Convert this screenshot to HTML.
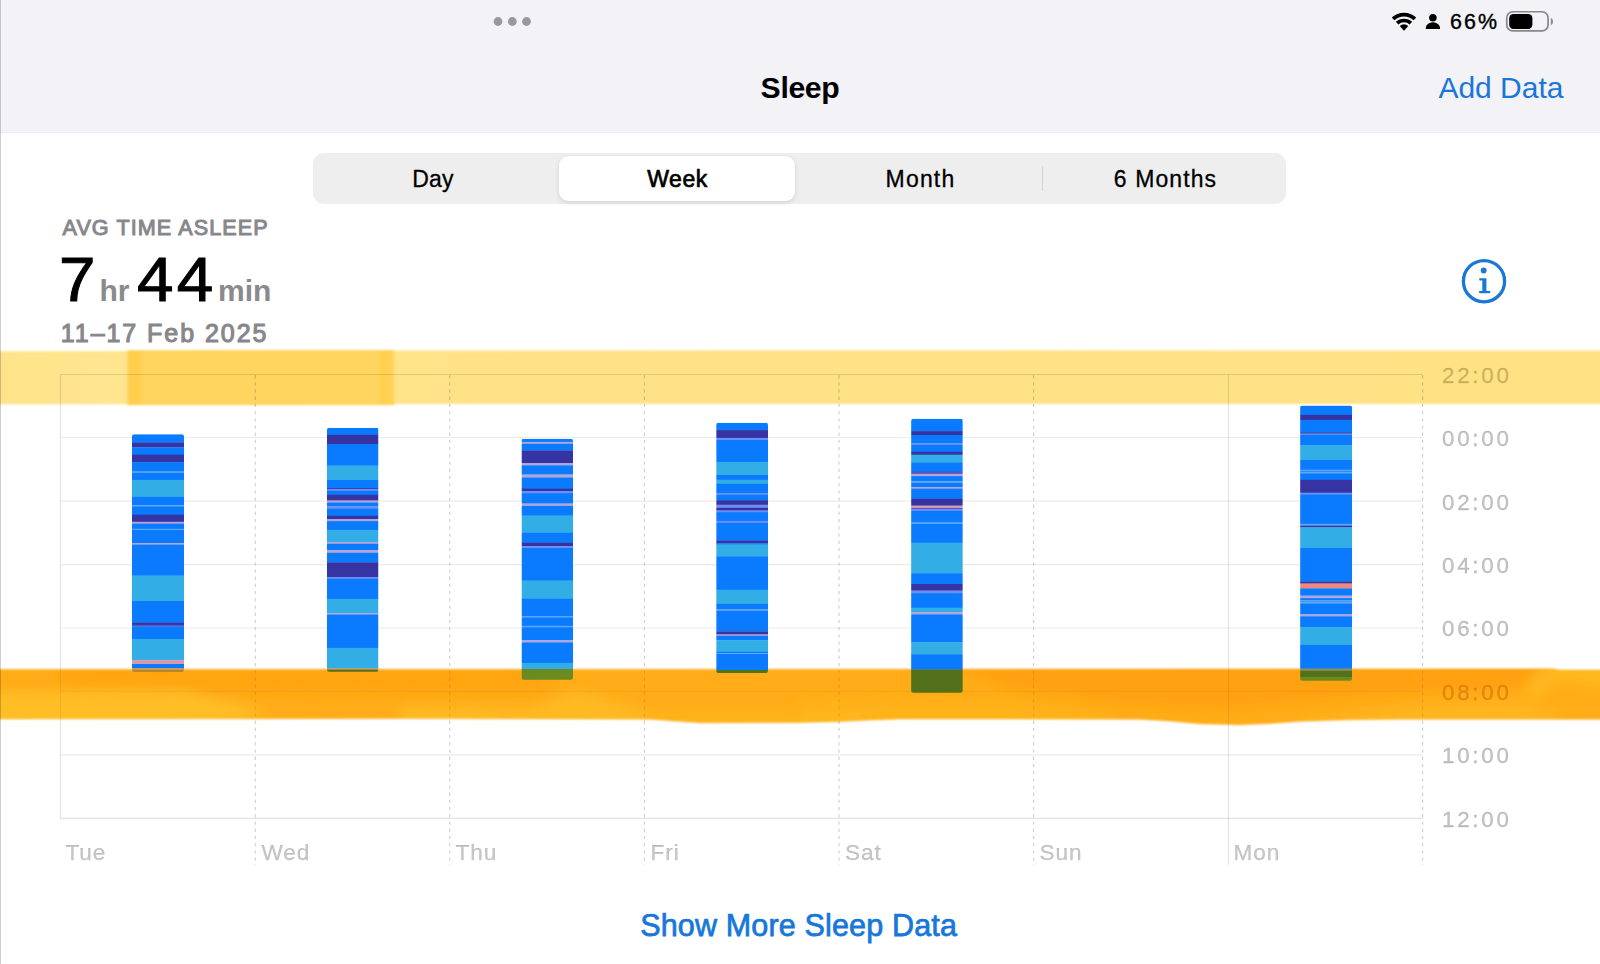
<!DOCTYPE html>
<html lang="en">
<head>
<meta charset="utf-8">
<title>Sleep</title>
<style>
html,body{margin:0;padding:0;}
body{width:1600px;height:964px;overflow:hidden;background:#fff;position:relative;font-family:"Liberation Sans",sans-serif;color:#000;}
.abs{position:absolute;white-space:nowrap;line-height:1;}
#hdr{position:absolute;left:0;top:0;width:1600px;height:132px;background:#F2F2F7;border-bottom:1px solid #EFEFF2;}
#edge{position:absolute;left:0;top:0;width:1.3px;height:964px;background:#CFCFD2;mix-blend-mode:multiply;}
#title{left:700px;width:200px;text-align:center;top:72.6px;font-size:30.2px;font-weight:bold;letter-spacing:-0.35px;}
#add{left:1438.4px;top:73px;font-size:30px;color:#1A77D8;}
#pct{left:1449.9px;top:11.7px;font-size:21.4px;letter-spacing:2.1px;-webkit-text-stroke:0.4px #000;}
#seg{position:absolute;left:313px;top:153px;width:973px;height:51px;border-radius:11px;background:#EEEEEF;}
#sel{position:absolute;left:559px;top:156.2px;width:236px;height:44.8px;border-radius:9px;background:#fff;box-shadow:0 2px 5px rgba(0,0,0,0.10),0 0 1px rgba(0,0,0,0.10);}
.sg{top:167.5px;font-size:23px;width:240px;text-align:center;color:#000;-webkit-text-stroke:0.3px #000;}
#sdiv{position:absolute;left:1041.5px;top:166px;width:1.3px;height:25px;background:#D4D4D8;}
#avg{left:62.5px;top:217px;font-size:21.6px;color:#87878B;-webkit-text-stroke:1.0px #87878B;letter-spacing:1.08px;}
.big{font-size:62.5px;color:#000;top:248px;transform:scaleX(1.05);transform-origin:0 0;-webkit-text-stroke:1.0px #000;letter-spacing:3px;}
.unit{font-size:30px;color:#8A8A8E;font-weight:bold;top:276px;}
#date{left:60.8px;top:320.5px;font-size:25px;color:#87878B;-webkit-text-stroke:1.1px #87878B;letter-spacing:1.95px;}
.yl{left:1442px;font-size:22.3px;color:rgba(60,60,67,0.31);letter-spacing:2.75px;-webkit-text-stroke:0.3px rgba(60,60,67,0.31);margin-top:0.6px;}
.xl{top:841.6px;font-size:22.6px;color:rgba(60,60,67,0.29);letter-spacing:0.9px;-webkit-text-stroke:0.25px rgba(60,60,67,0.29);}
#more{left:498.6px;width:600px;text-align:center;top:910.3px;font-size:30.5px;color:#1777DA;-webkit-text-stroke:0.75px #1777DA;letter-spacing:0.16px;}
svg{position:absolute;left:0;top:0;}
</style>
</head>
<body>
<div id="hdr"></div>
<div class="abs" id="title">Sleep</div>
<div class="abs" id="add">Add Data</div>
<div class="abs" id="pct">66%</div>

<div id="seg"></div>
<div id="sel"></div>
<div id="sdiv"></div>
<div class="abs sg" style="left:313px;letter-spacing:0.2px">Day</div>
<div class="abs sg" style="left:557.5px;-webkit-text-stroke:0.7px #000;letter-spacing:0.5px">Week</div>
<div class="abs sg" style="left:800.5px;letter-spacing:1.2px">Month</div>
<div class="abs sg" style="left:1045.5px;letter-spacing:1.1px">6 Months</div>

<div class="abs" id="avg">AVG TIME ASLEEP</div>
<div class="abs big" style="left:59px">7</div>
<div class="abs unit" style="left:99.5px">hr</div>
<div class="abs big" style="left:136.5px">44</div>
<div class="abs unit" style="left:218px">min</div>
<div class="abs" id="date">11–17 Feb 2025</div>

<svg width="1600" height="964" viewBox="0 0 1600 964">
<defs>
<filter id="bl1" x="-5%" y="-20%" width="110%" height="140%"><feGaussianBlur stdDeviation="1.15"/></filter>
<filter id="blp" x="-5%" y="-20%" width="110%" height="140%"><feGaussianBlur stdDeviation="1.8 1.15"/></filter>
<filter id="bl2" x="-5%" y="-20%" width="110%" height="140%"><feGaussianBlur stdDeviation="1.1"/></filter>
<filter id="bl6" x="-10%" y="-50%" width="120%" height="200%"><feGaussianBlur stdDeviation="6"/></filter>
<linearGradient id="yl" x1="0" x2="1" y1="0" y2="0">
<stop offset="0" stop-color="#FFE38A"/><stop offset="0.08" stop-color="#FFE590"/><stop offset="0.3" stop-color="#FFE288"/><stop offset="1" stop-color="#FFE284"/>
</linearGradient>
<linearGradient id="yp" x1="0" x2="1" y1="0" y2="0">
<stop offset="0" stop-color="#FFCE4A"/><stop offset="0.045" stop-color="#FFCF4E"/><stop offset="0.06" stop-color="#FFD45E"/><stop offset="0.94" stop-color="#FFD45E"/><stop offset="0.955" stop-color="#FFCF4E"/><stop offset="1" stop-color="#FFD35A"/>
</linearGradient>
<path id="opath" d="M-5 669.5 L400 669.5 L900 669.2 L1500 669 L1552 668.8 L1560 669.9 L1605 669.9 L1605 719.2 L1500 719.2 L1400 719.3 L1350 719.8 L1300 721.3 L1270 723.6 L1240 724.8 L1200 723.8 L1170 721 L1140 719.2 L1000 718.9 L900 718.9 L870 720 L840 721.6 L800 722.6 L700 722.8 L675 721 L650 719.2 L400 718.5 L-5 718.9 Z"/>
<mask id="omask" maskUnits="userSpaceOnUse" x="0" y="650" width="1600" height="90"><use href="#opath" fill="#fff" filter="url(#bl2)"/></mask>
</defs>
<!-- status icons -->
<g fill="#98989F"><circle cx="498" cy="21.5" r="4.4"/><circle cx="512.3" cy="21.5" r="4.4"/><circle cx="526.5" cy="21.5" r="4.4"/></g>
<g id="wifi" fill="none" stroke="#000" stroke-linecap="butt">
<path d="M1393.09 18.9 A16 16 0 0 1 1414.91 18.9" stroke-width="3.8"/>
<path d="M1397.11 23.22 A10.1 10.1 0 0 1 1410.89 23.22" stroke-width="3.7"/>
<path d="M1404 30.8 L1399.7 26.0 A6.3 6.3 0 0 1 1408.3 26.0 Z" fill="#000" stroke="none"/>
</g>
<g fill="#000"><circle cx="1432.9" cy="17.7" r="3.8"/><path d="M1425.8 28.9 v-1.2 a7.1 5.4 0 0 1 14.2 0 v1.2 z"/></g>
<rect x="1506.75" y="11.75" width="41.3" height="19.2" rx="6" ry="6" fill="none" stroke="#86868B" stroke-width="1.7"/>
<rect x="1509.2" y="14.1" width="23.2" height="14.8" rx="4.2" ry="4.2" fill="#000"/>
<path d="M1550.8 17.8 v7.4 a4 4 0 0 0 2.3 -3.7 a4 4 0 0 0 -2.3 -3.7 z" fill="#8E8E93"/>
<!-- info icon -->
<g fill="#1A77D8"><circle cx="1484" cy="281.2" r="20.6" fill="none" stroke="#1A77D8" stroke-width="3.3"/>
<circle cx="1483.7" cy="270.5" r="2.9"/>
<path d="M1480.3 278.2 H1486.4 V290.9 H1489.4 a1.15 1.15 0 0 1 0 2.3 H1480 a1.15 1.15 0 0 1 0 -2.3 H1482.3 V280.6 H1480.3 a1.2 1.2 0 0 1 0 -2.4 Z"/></g>

<!-- yellow highlighter -->
<g filter="url(#bl1)">
<polygon points="-5,351.2 400,350.6 800,350.3 1605,350.5 1605,404 800,404 -5,404.3" fill="url(#yl)"/>
</g>
<rect x="127.5" y="350.5" width="266.5" height="54.4" fill="url(#yp)" filter="url(#blp)"/>
<!-- orange highlighter -->
<g id="oband" mask="url(#omask)">
<rect x="0" y="650" width="1600" height="90" fill="#FFAD19"/>
<g filter="url(#bl6)">
<path d="M60 660 L520 660 L560 690 L330 694 L170 690 L60 684 Z" fill="#FFA20E" opacity="0.85"/>
<path d="M-10 692 L180 690 L270 712 L200 730 L-10 730 Z" fill="#FFC02A" opacity="0.9"/>
<path d="M400 706 L530 708 L577 690 L655 714 L640 730 L400 730 Z" fill="#FFBB25" opacity="0.85"/>
<path d="M650 712 L860 712 L860 730 L650 730 Z" fill="#FFB720" opacity="0.7"/>
<path d="M950 660 L1555 660 L1530 690 L1420 692 L1230 708 L1120 704 L1000 686 Z" fill="#FF9F0C" opacity="0.8"/>
<path d="M800 700 L1000 702 L1120 716 L1100 730 L800 730 Z" fill="#FFB620" opacity="0.7"/>
<path d="M1300 722 L1420 704 L1520 700 L1560 716 L1560 730 L1300 730 Z" fill="#FFB822" opacity="0.8"/>
<path d="M1552 655 L1610 655 L1610 690 L1560 682 L1535 700 L1520 690 Z" fill="#FFBA22" opacity="0.85"/>
</g>
</g>
<!-- grid -->
<g stroke="rgba(0,0,0,0.115)" stroke-width="1.1" fill="none">
<path d="M60.5 374.5 H1422.5"/>
<path d="M60.5 374.5 V818.5"/>
<path d="M60.5 818.3 H1422.5" stroke="rgba(0,0,0,0.15)"/>
<path d="M1228.5 374.5 V865"/>
</g>
<g stroke="rgba(0,0,0,0.078)" stroke-width="1.2" fill="none">
<path d="M61 437.5 H1422.5 M61 501.2 H1422.5 M61 564.6 H1422.5 M61 628 H1422.5 M61 691.3 H1422.5 M61 754.8 H1422.5"/>
</g>
<g stroke="rgba(0,0,0,0.195)" stroke-width="1.1" stroke-dasharray="3.3 3.9" fill="none">
<path d="M255.3 375 V865 M449.7 375 V865 M644.4 375 V865 M839 375 V865 M1033.6 375 V865 M1422.6 375 V865"/>
</g>
<use href="#oband" opacity="0.45"/>
<!-- bars -->
<clipPath id="c_tue"><rect x="132" y="434.2" width="52" height="237.4" rx="2.2" ry="2.2"/></clipPath>
<g clip-path="url(#c_tue)">
<rect x="132" y="434.2" width="52" height="8.6" fill="#0A7AFF"/>
<rect x="132" y="442.5" width="52" height="5.1" fill="#3634A3"/>
<rect x="132" y="447.3" width="52" height="7.7" fill="#0A7AFF"/>
<rect x="132" y="454.7" width="52" height="7.7" fill="#3634A3"/>
<rect x="132" y="462.1" width="52" height="9.7" fill="#0A7AFF"/>
<rect x="132" y="471.5" width="52" height="1.7" fill="#5CA6F7"/>
<rect x="132" y="472.9" width="52" height="7.3" fill="#0A7AFF"/>
<rect x="132" y="479.9" width="52" height="17.3" fill="#32ADE6"/>
<rect x="132" y="496.9" width="52" height="8.6" fill="#0A7AFF"/>
<rect x="132" y="505.2" width="52" height="1.4" fill="#5CA6F7"/>
<rect x="132" y="506.3" width="52" height="8.7" fill="#0A7AFF"/>
<rect x="132" y="514.7" width="52" height="7.4" fill="#3634A3"/>
<rect x="132" y="521.8" width="52" height="2.1" fill="#B3A4DA"/>
<rect x="132" y="523.6" width="52" height="5.5" fill="#0A7AFF"/>
<rect x="132" y="528.8" width="52" height="1.5" fill="#5CA6F7"/>
<rect x="132" y="530" width="52" height="13.3" fill="#0A7AFF"/>
<rect x="132" y="543" width="52" height="1.9" fill="#B3A4DA"/>
<rect x="132" y="544.6" width="52" height="31.3" fill="#0A7AFF"/>
<rect x="132" y="575.6" width="52" height="25.7" fill="#32ADE6"/>
<rect x="132" y="601" width="52" height="21.9" fill="#0A7AFF"/>
<rect x="132" y="622.6" width="52" height="2.5" fill="#3634A3"/>
<rect x="132" y="624.8" width="52" height="1.9" fill="#5A55C0"/>
<rect x="132" y="626.4" width="52" height="12.9" fill="#0A7AFF"/>
<rect x="132" y="639" width="52" height="21.2" fill="#32ADE6"/>
<rect x="132" y="659.9" width="52" height="4.4" fill="#D49AB2"/>
<rect x="132" y="664" width="52" height="4.3" fill="#0A7AFF"/>
<rect x="132" y="668" width="52" height="2.9" fill="#D6925A"/>
<rect x="132" y="670.6" width="52" height="1.3" fill="#53711B"/>
</g>
<clipPath id="c_wed"><rect x="327" y="427.8" width="51.5" height="244.0" rx="2.2" ry="2.2"/></clipPath>
<g clip-path="url(#c_wed)">
<rect x="327" y="427.8" width="51.5" height="7.3" fill="#0A7AFF"/>
<rect x="327" y="434.8" width="51.5" height="9.5" fill="#3634A3"/>
<rect x="327" y="444" width="51.5" height="21.9" fill="#0A7AFF"/>
<rect x="327" y="465.6" width="51.5" height="14.7" fill="#32ADE6"/>
<rect x="327" y="480" width="51.5" height="8.4" fill="#0A7AFF"/>
<rect x="327" y="488.1" width="51.5" height="1.2" fill="#3634A3"/>
<rect x="327" y="489" width="51.5" height="2.1" fill="#6C8FF7"/>
<rect x="327" y="490.8" width="51.5" height="4.3" fill="#0A7AFF"/>
<rect x="327" y="494.8" width="51.5" height="6.0" fill="#3634A3"/>
<rect x="327" y="500.5" width="51.5" height="2.3" fill="#B3A4DA"/>
<rect x="327" y="502.5" width="51.5" height="4.1" fill="#0A7AFF"/>
<rect x="327" y="506.3" width="51.5" height="2.7" fill="#6C8FF7"/>
<rect x="327" y="508.7" width="51.5" height="7.4" fill="#0A7AFF"/>
<rect x="327" y="515.8" width="51.5" height="3.6" fill="#3634A3"/>
<rect x="327" y="519.1" width="51.5" height="2.3" fill="#B3A4DA"/>
<rect x="327" y="521.1" width="51.5" height="9.1" fill="#0A7AFF"/>
<rect x="327" y="529.9" width="51.5" height="12.4" fill="#32ADE6"/>
<rect x="327" y="542" width="51.5" height="2.1" fill="#B3A4DA"/>
<rect x="327" y="543.8" width="51.5" height="6.6" fill="#0A7AFF"/>
<rect x="327" y="550.1" width="51.5" height="3.0" fill="#B3A4DA"/>
<rect x="327" y="552.8" width="51.5" height="9.8" fill="#0A7AFF"/>
<rect x="327" y="562.3" width="51.5" height="15.1" fill="#3634A3"/>
<rect x="327" y="577.1" width="51.5" height="1.9" fill="#6C8FF7"/>
<rect x="327" y="578.7" width="51.5" height="20.5" fill="#0A7AFF"/>
<rect x="327" y="598.9" width="51.5" height="14.5" fill="#32ADE6"/>
<rect x="327" y="613.1" width="51.5" height="1.7" fill="#B3A4DA"/>
<rect x="327" y="614.5" width="51.5" height="33.6" fill="#0A7AFF"/>
<rect x="327" y="647.8" width="51.5" height="20.9" fill="#32ADE6"/>
<rect x="327" y="668.4" width="51.5" height="1.6" fill="#D6925A"/>
<rect x="327" y="669.7" width="51.5" height="2.4" fill="#53711B"/>
</g>
<clipPath id="c_thu"><rect x="521.5" y="438.8" width="51.5" height="241.0" rx="2.2" ry="2.2"/></clipPath>
<g clip-path="url(#c_thu)">
<rect x="521.5" y="438.8" width="51.5" height="3.4" fill="#0A7AFF"/>
<rect x="521.5" y="441.9" width="51.5" height="2.2" fill="#B3A4DA"/>
<rect x="521.5" y="443.8" width="51.5" height="7.0" fill="#0A7AFF"/>
<rect x="521.5" y="450.5" width="51.5" height="12.8" fill="#3634A3"/>
<rect x="521.5" y="463" width="51.5" height="2.6" fill="#B3A4DA"/>
<rect x="521.5" y="465.3" width="51.5" height="9.5" fill="#0A7AFF"/>
<rect x="521.5" y="474.5" width="51.5" height="3.3" fill="#B3A4DA"/>
<rect x="521.5" y="477.5" width="51.5" height="11.5" fill="#0A7AFF"/>
<rect x="521.5" y="488.7" width="51.5" height="2.6" fill="#3634A3"/>
<rect x="521.5" y="491" width="51.5" height="2.4" fill="#6C8FF7"/>
<rect x="521.5" y="493.1" width="51.5" height="10.7" fill="#0A7AFF"/>
<rect x="521.5" y="503.5" width="51.5" height="2.7" fill="#B3A4DA"/>
<rect x="521.5" y="505.9" width="51.5" height="10.0" fill="#0A7AFF"/>
<rect x="521.5" y="515.6" width="51.5" height="17.5" fill="#32ADE6"/>
<rect x="521.5" y="532.8" width="51.5" height="10.1" fill="#0A7AFF"/>
<rect x="521.5" y="542.6" width="51.5" height="3.9" fill="#3634A3"/>
<rect x="521.5" y="546.2" width="51.5" height="2.1" fill="#6C8FF7"/>
<rect x="521.5" y="548" width="51.5" height="32.9" fill="#0A7AFF"/>
<rect x="521.5" y="580.6" width="51.5" height="18.5" fill="#32ADE6"/>
<rect x="521.5" y="598.8" width="51.5" height="17.5" fill="#0A7AFF"/>
<rect x="521.5" y="616" width="51.5" height="1.6" fill="#5CA6F7"/>
<rect x="521.5" y="617.3" width="51.5" height="8.8" fill="#0A7AFF"/>
<rect x="521.5" y="625.8" width="51.5" height="1.7" fill="#5CA6F7"/>
<rect x="521.5" y="627.2" width="51.5" height="13.3" fill="#0A7AFF"/>
<rect x="521.5" y="640.2" width="51.5" height="2.5" fill="#B3A4DA"/>
<rect x="521.5" y="642.4" width="51.5" height="20.8" fill="#0A7AFF"/>
<rect x="521.5" y="662.9" width="51.5" height="6.4" fill="#32ADE6"/>
<rect x="521.5" y="669" width="51.5" height="11.1" fill="#6B8A1F"/>
</g>
<clipPath id="c_fri"><rect x="716.2" y="422.8" width="51.8" height="250.2" rx="2.2" ry="2.2"/></clipPath>
<g clip-path="url(#c_fri)">
<rect x="716.2" y="422.8" width="51.8" height="7.6" fill="#0A7AFF"/>
<rect x="716.2" y="430.1" width="51.8" height="8.1" fill="#3634A3"/>
<rect x="716.2" y="437.9" width="51.8" height="2.4" fill="#6C8FF7"/>
<rect x="716.2" y="440" width="51.8" height="22.2" fill="#0A7AFF"/>
<rect x="716.2" y="461.9" width="51.8" height="13.4" fill="#32ADE6"/>
<rect x="716.2" y="475" width="51.8" height="5.0" fill="#0A7AFF"/>
<rect x="716.2" y="479.7" width="51.8" height="4.4" fill="#32ADE6"/>
<rect x="716.2" y="483.8" width="51.8" height="9.5" fill="#0A7AFF"/>
<rect x="716.2" y="493" width="51.8" height="2.1" fill="#6C8FF7"/>
<rect x="716.2" y="494.8" width="51.8" height="5.7" fill="#0A7AFF"/>
<rect x="716.2" y="500.2" width="51.8" height="4.8" fill="#3634A3"/>
<rect x="716.2" y="504.7" width="51.8" height="3.4" fill="#6C8FF7"/>
<rect x="716.2" y="507.8" width="51.8" height="3.0" fill="#3634A3"/>
<rect x="716.2" y="510.5" width="51.8" height="1.9" fill="#6C8FF7"/>
<rect x="716.2" y="512.1" width="51.8" height="9.1" fill="#0A7AFF"/>
<rect x="716.2" y="520.9" width="51.8" height="2.3" fill="#6C8FF7"/>
<rect x="716.2" y="522.9" width="51.8" height="17.8" fill="#0A7AFF"/>
<rect x="716.2" y="540.4" width="51.8" height="3.0" fill="#3634A3"/>
<rect x="716.2" y="543.1" width="51.8" height="1.8" fill="#0A7AFF"/>
<rect x="716.2" y="544.6" width="51.8" height="12.0" fill="#32ADE6"/>
<rect x="716.2" y="556.3" width="51.8" height="33.7" fill="#0A7AFF"/>
<rect x="716.2" y="589.7" width="51.8" height="14.5" fill="#32ADE6"/>
<rect x="716.2" y="603.9" width="51.8" height="5.4" fill="#0A7AFF"/>
<rect x="716.2" y="609" width="51.8" height="2.2" fill="#5CA6F7"/>
<rect x="716.2" y="610.9" width="51.8" height="20.9" fill="#0A7AFF"/>
<rect x="716.2" y="631.5" width="51.8" height="3.2" fill="#3634A3"/>
<rect x="716.2" y="634.4" width="51.8" height="1.7" fill="#B3A4DA"/>
<rect x="716.2" y="635.8" width="51.8" height="4.7" fill="#0A7AFF"/>
<rect x="716.2" y="640.2" width="51.8" height="11.9" fill="#32ADE6"/>
<rect x="716.2" y="651.8" width="51.8" height="1.8" fill="#0A7AFF"/>
<rect x="716.2" y="653.3" width="51.8" height="1.0" fill="#5CA6F7"/>
<rect x="716.2" y="654" width="51.8" height="16.3" fill="#0A7AFF"/>
<rect x="716.2" y="670" width="51.8" height="3.3" fill="#53711B"/>
</g>
<clipPath id="c_sat"><rect x="911.1" y="418.7" width="51.7" height="274.1" rx="2.2" ry="2.2"/></clipPath>
<g clip-path="url(#c_sat)">
<rect x="911.1" y="418.7" width="51.7" height="12.7" fill="#0A7AFF"/>
<rect x="911.1" y="431.1" width="51.7" height="4.2" fill="#3634A3"/>
<rect x="911.1" y="435" width="51.7" height="8.4" fill="#0A7AFF"/>
<rect x="911.1" y="443.1" width="51.7" height="2.1" fill="#6C8FF7"/>
<rect x="911.1" y="444.9" width="51.7" height="7.2" fill="#0A7AFF"/>
<rect x="911.1" y="451.8" width="51.7" height="3.2" fill="#3634A3"/>
<rect x="911.1" y="454.7" width="51.7" height="7.9" fill="#32ADE6"/>
<rect x="911.1" y="462.3" width="51.7" height="9.7" fill="#0A7AFF"/>
<rect x="911.1" y="471.7" width="51.7" height="2.5" fill="#5A55C0"/>
<rect x="911.1" y="473.9" width="51.7" height="2.5" fill="#B3A4DA"/>
<rect x="911.1" y="476.1" width="51.7" height="5.4" fill="#0A7AFF"/>
<rect x="911.1" y="481.2" width="51.7" height="2.0" fill="#5CA6F7"/>
<rect x="911.1" y="482.9" width="51.7" height="4.4" fill="#0A7AFF"/>
<rect x="911.1" y="487" width="51.7" height="2.0" fill="#B3A4DA"/>
<rect x="911.1" y="488.7" width="51.7" height="10.2" fill="#0A7AFF"/>
<rect x="911.1" y="498.6" width="51.7" height="7.3" fill="#3634A3"/>
<rect x="911.1" y="505.6" width="51.7" height="2.7" fill="#D49AB2"/>
<rect x="911.1" y="508" width="51.7" height="1.3" fill="#5A55C0"/>
<rect x="911.1" y="509" width="51.7" height="2.2" fill="#6C8FF7"/>
<rect x="911.1" y="510.9" width="51.7" height="11.9" fill="#0A7AFF"/>
<rect x="911.1" y="522.5" width="51.7" height="1.8" fill="#5CA6F7"/>
<rect x="911.1" y="524" width="51.7" height="19.0" fill="#0A7AFF"/>
<rect x="911.1" y="542.7" width="51.7" height="30.8" fill="#32ADE6"/>
<rect x="911.1" y="573.2" width="51.7" height="11.1" fill="#0A7AFF"/>
<rect x="911.1" y="584" width="51.7" height="6.9" fill="#3634A3"/>
<rect x="911.1" y="590.6" width="51.7" height="2.8" fill="#6C8FF7"/>
<rect x="911.1" y="593.1" width="51.7" height="14.9" fill="#0A7AFF"/>
<rect x="911.1" y="607.7" width="51.7" height="4.8" fill="#32ADE6"/>
<rect x="911.1" y="612.2" width="51.7" height="2.5" fill="#B3A4DA"/>
<rect x="911.1" y="614.4" width="51.7" height="28.0" fill="#0A7AFF"/>
<rect x="911.1" y="642.1" width="51.7" height="12.4" fill="#32ADE6"/>
<rect x="911.1" y="654.2" width="51.7" height="15.6" fill="#0A7AFF"/>
<rect x="911.1" y="669.5" width="51.7" height="23.6" fill="#53711B"/>
</g>
<clipPath id="c_mon"><rect x="1300.1" y="405.6" width="52" height="275.2" rx="2.2" ry="2.2"/></clipPath>
<g clip-path="url(#c_mon)">
<rect x="1300.1" y="405.6" width="52" height="9.6" fill="#0A7AFF"/>
<rect x="1300.1" y="414.9" width="52" height="5.3" fill="#3634A3"/>
<rect x="1300.1" y="419.9" width="52" height="12.7" fill="#0A7AFF"/>
<rect x="1300.1" y="432.3" width="52" height="1.6" fill="#3634A3"/>
<rect x="1300.1" y="433.6" width="52" height="1.5" fill="#5CA6F7"/>
<rect x="1300.1" y="434.8" width="52" height="10.6" fill="#0A7AFF"/>
<rect x="1300.1" y="445.1" width="52" height="15.2" fill="#32ADE6"/>
<rect x="1300.1" y="460" width="52" height="10.0" fill="#0A7AFF"/>
<rect x="1300.1" y="469.7" width="52" height="1.8" fill="#5CA6F7"/>
<rect x="1300.1" y="471.2" width="52" height="1.4" fill="#0A7AFF"/>
<rect x="1300.1" y="472.3" width="52" height="1.3" fill="#5CA6F7"/>
<rect x="1300.1" y="473.3" width="52" height="6.8" fill="#0A7AFF"/>
<rect x="1300.1" y="479.8" width="52" height="13.2" fill="#3634A3"/>
<rect x="1300.1" y="492.7" width="52" height="1.9" fill="#6C8FF7"/>
<rect x="1300.1" y="494.3" width="52" height="29.8" fill="#0A7AFF"/>
<rect x="1300.1" y="523.8" width="52" height="2.2" fill="#5CA6F7"/>
<rect x="1300.1" y="525.7" width="52" height="1.9" fill="#3634A3"/>
<rect x="1300.1" y="527.3" width="52" height="21.0" fill="#32ADE6"/>
<rect x="1300.1" y="548" width="52" height="33.8" fill="#0A7AFF"/>
<rect x="1300.1" y="581.5" width="52" height="2.3" fill="#3634A3"/>
<rect x="1300.1" y="583.5" width="52" height="5.2" fill="#F0897D"/>
<rect x="1300.1" y="588.4" width="52" height="7.5" fill="#0A7AFF"/>
<rect x="1300.1" y="595.6" width="52" height="2.8" fill="#B3A4DA"/>
<rect x="1300.1" y="598.1" width="52" height="2.2" fill="#0A7AFF"/>
<rect x="1300.1" y="600" width="52" height="1.7" fill="#5CA6F7"/>
<rect x="1300.1" y="601.4" width="52" height="1.1" fill="#0A7AFF"/>
<rect x="1300.1" y="602.2" width="52" height="1.5" fill="#5CA6F7"/>
<rect x="1300.1" y="603.4" width="52" height="11.2" fill="#0A7AFF"/>
<rect x="1300.1" y="614.3" width="52" height="2.3" fill="#B3A4DA"/>
<rect x="1300.1" y="616.3" width="52" height="11.1" fill="#0A7AFF"/>
<rect x="1300.1" y="627.1" width="52" height="18.1" fill="#32ADE6"/>
<rect x="1300.1" y="644.9" width="52" height="24.0" fill="#0A7AFF"/>
<rect x="1300.1" y="668.6" width="52" height="2.5" fill="#8A8F55"/>
<rect x="1300.1" y="670.8" width="52" height="6.4" fill="#53711B"/>
<rect x="1300.1" y="676.9" width="52" height="4.2" fill="#6B8A1F"/>
</g>
</svg>

<div class="abs yl" style="top:364.5px;color:rgba(120,95,20,0.36);-webkit-text-stroke-color:rgba(120,95,20,0.36)">22:00</div>
<div class="abs yl" style="top:427.5px">00:00</div>
<div class="abs yl" style="top:491px">02:00</div>
<div class="abs yl" style="top:554.5px">04:00</div>
<div class="abs yl" style="top:617.5px">06:00</div>
<div class="abs yl" style="top:681px;color:rgba(190,100,0,0.45);-webkit-text-stroke-color:rgba(190,100,0,0.45)">08:00</div>
<div class="abs yl" style="top:744.5px">10:00</div>
<div class="abs yl" style="top:808px">12:00</div>

<div class="abs xl" style="left:65.5px">Tue</div>
<div class="abs xl" style="left:261.5px">Wed</div>
<div class="abs xl" style="left:455.5px">Thu</div>
<div class="abs xl" style="left:650.5px">Fri</div>
<div class="abs xl" style="left:845px">Sat</div>
<div class="abs xl" style="left:1039.5px">Sun</div>
<div class="abs xl" style="left:1233.5px">Mon</div>

<div class="abs" id="more">Show More Sleep Data</div>
<div id="edge"></div>
</body>
</html>
